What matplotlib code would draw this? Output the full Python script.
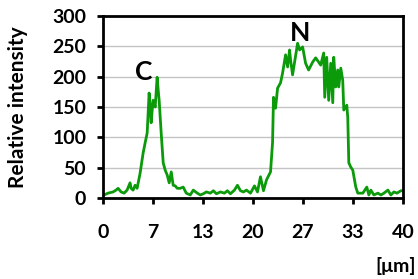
import numpy as np
import matplotlib

matplotlib.use("Agg")
import matplotlib.pyplot as plt

# profile (position in um, relative intensity)
position_um = [
    0.13, 0.67, 1.34, 1.74, 2.01, 2.41, 2.81, 3.21, 3.61, 3.75,
    4.01, 4.28, 4.55, 4.95, 5.35, 5.62, 5.89, 6.15, 6.29, 6.42,
    6.56, 6.69, 6.96, 7.22, 7.36, 7.49, 7.76, 8.03, 8.29, 8.56,
    8.83, 9.10, 9.36, 9.63, 9.90, 10.30, 10.70, 11.10, 11.64, 12.04,
    12.58, 12.98, 13.38, 13.78, 14.31, 14.72, 15.12, 15.65, 16.19, 16.59,
    16.99, 17.53, 17.93, 18.33, 18.73, 19.13, 19.67, 20.20, 20.60, 21.00,
    21.40, 21.81, 22.34, 22.61, 22.74, 23.01, 23.28, 23.68, 23.95, 24.35,
    24.62, 24.88, 25.02, 25.28, 25.55, 25.95, 26.22, 26.62, 27.02, 27.42,
    27.96, 28.36, 28.76, 29.03, 29.43, 29.57, 29.83, 30.10, 30.37, 30.64,
    30.77, 31.04, 31.30, 31.44, 31.71, 31.97, 32.11, 32.51, 32.64, 32.78,
    33.04, 33.31, 33.71, 33.98, 34.38, 34.65, 35.18, 35.45, 35.72, 36.12,
    36.66, 37.06, 37.46, 37.99, 38.39, 38.80, 39.20, 39.73, 40.00,
]
intensity = [
    5, 8, 10, 13, 16, 10, 8, 13, 25, 16,
    13, 21, 16, 41, 74, 91, 107, 173, 153, 124,
    145, 161, 150, 199, 178, 161, 107, 58, 46, 38,
    25, 43, 21, 20, 16, 16, 18, 8, 5, 13,
    8, 5, 7, 10, 8, 12, 7, 10, 8, 12,
    7, 13, 21, 12, 10, 13, 8, 20, 10, 35,
    12, 30, 43, 91, 166, 148, 181, 190, 206, 236,
    216, 244, 227, 203, 224, 255, 244, 249, 222, 211,
    224, 231, 224, 219, 239, 166, 232, 161, 222, 157,
    232, 183, 211, 183, 214, 194, 145, 153, 133, 58,
    51, 46, 18, 8, 8, 8, 18, 5, 13, 5,
    8, 5, 8, 13, 5, 10, 8, 12, 12,
]

x_tick_labels = ["0", "7", "13", "20", "27", "33", "40"]
y_ticks = [0, 50, 100, 150, 200, 250, 300]
peak_labels = [("C", 5.4, 208), ("N", 26.3, 272)]

FONT = "Lato"
GREEN = "#0a9a0a"

fig = plt.figure(figsize=(4.18, 2.79), dpi=100)
ax = fig.add_axes([0.2464, 0.2903, 0.7176, 0.6524])

ax.plot(position_um, intensity, color=GREEN, lw=2.0, solid_joinstyle="round")

ax.set_xlim(0, 40)
ax.set_ylim(0, 300)
ax.set_xticks(np.linspace(0, 40, len(x_tick_labels)))
ax.set_xticklabels(x_tick_labels)
ax.set_yticks(y_ticks)
ax.yaxis.grid(True, color="#c4c4c4", lw=1.0)
ax.set_axisbelow(True)

for side in ("left", "right", "top", "bottom"):
    ax.spines[side].set_linewidth(2.0)
    ax.spines[side].set_color("black")

ax.tick_params(axis="both", direction="out", length=4, width=2.0,
               labelsize=14, colors="black")
ax.tick_params(axis="y", pad=8)
ax.tick_params(axis="x", pad=15)
for lbl in ax.get_xticklabels() + ax.get_yticklabels():
    lbl.set_fontfamily(FONT)
    lbl.set_fontweight("bold")

ax.set_ylabel("Relative intensity", fontfamily=FONT, fontweight="bold",
              fontsize=15)
ax.yaxis.set_label_coords(-0.25, 0.5)

for txt, xv, yv in peak_labels:
    ax.text(xv, yv, txt, ha="center", va="center", fontfamily=FONT,
            fontweight="bold", fontsize=19)

fig.text(0.995, 0.048, "[\u03bcm]", ha="right", va="center", fontfamily=FONT,
         fontweight="bold", fontsize=14)

fig.savefig("out.png", dpi=100)
